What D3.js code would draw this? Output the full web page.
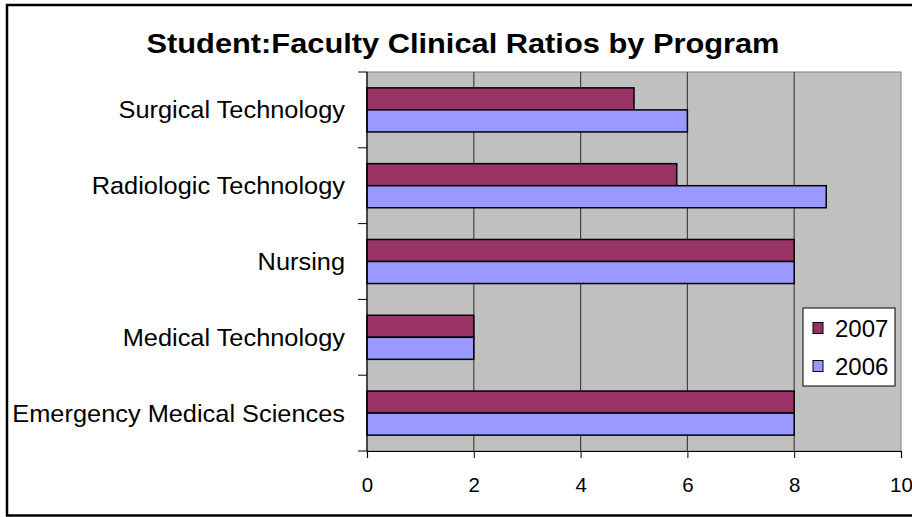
<!DOCTYPE html>
<html>
<head>
<meta charset="utf-8">
<script src="https://cdn.jsdelivr.net/npm/d3@7"></script>
<style>
  html, body { margin: 0; padding: 0; background: #fff; }
  svg { display: block; font-family: Arial, "Liberation Sans", sans-serif; }
</style>
</head>
<body>
<svg id="chart" width="912" height="517"></svg>
<script>
const categories = ["Surgical Technology", "Radiologic Technology", "Nursing", "Medical Technology", "Emergency Medical Sciences"];
const seriesNames = ["2007", "2006"];
const values2007 = [5, 5.8, 8, 2, 8];
const values2006 = [6, 8.6, 8, 2, 8];
const xTicks = [0, 2, 4, 6, 8, 10];
const colors = { "2007": "#993366", "2006": "#9999FF" };
const title = "Student:Faculty Clinical Ratios by Program";

const svg = d3.select("#chart");
const plot = { left: 367, right: 901, top: 72, bottom: 451 };

// outer border
svg.append("rect").attr("x", 7).attr("y", 5).attr("width", 930).attr("height", 510.5)
  .attr("fill", "none").attr("stroke", "#000").attr("stroke-width", 2.5);

// title
svg.append("text").attr("transform", "translate(463,53) scale(1.1,1)").attr("text-anchor", "middle")
  .attr("font-size", 28).attr("font-weight", "bold").attr("fill", "#000").text(title);

const x = d3.scaleLinear().domain([0, 10]).range([plot.left, plot.right]);
const y = d3.scaleBand().domain(categories).range([plot.top, plot.bottom]).padding(0);
const ySub = d3.scaleBand().domain(seriesNames).range([0, y.bandwidth()]).paddingInner(0).paddingOuter(0.72);

// plot background
svg.append("rect").attr("x", plot.left).attr("y", plot.top)
  .attr("width", plot.right - plot.left).attr("height", plot.bottom - plot.top)
  .attr("fill", "#C0C0C0").attr("stroke", "#808080").attr("stroke-width", 1);

// gridlines
svg.append("g").selectAll("line").data(xTicks.filter(d => d > 0 && d < 10)).join("line")
  .attr("x1", d => x(d)).attr("x2", d => x(d))
  .attr("y1", plot.top).attr("y2", plot.bottom)
  .attr("stroke", "#444").attr("stroke-width", 1.2);

// bars
const data = [];
categories.forEach((c, i) => {
  data.push({ cat: c, s: "2007", v: values2007[i] });
  data.push({ cat: c, s: "2006", v: values2006[i] });
});
svg.append("g").selectAll("rect").data(data).join("rect")
  .attr("x", x(0))
  .attr("y", d => y(d.cat) + ySub(d.s))
  .attr("width", d => x(d.v) - x(0))
  .attr("height", ySub.bandwidth())
  .attr("fill", d => colors[d.s])
  .attr("stroke", "#000").attr("stroke-width", 1.5);

// x axis
const xAxis = d3.axisBottom(x).tickValues(xTicks).tickSize(7).tickPadding(19).tickFormat(d3.format("d"));
const gx = svg.append("g").attr("transform", `translate(0,${plot.bottom})`).call(xAxis);
gx.select(".domain").attr("stroke", "#000").attr("stroke-width", 1.2);
gx.selectAll(".tick line").attr("stroke", "#000");
gx.selectAll(".tick text").attr("font-size", 20.5).attr("font-family", "Arial, 'Liberation Sans', sans-serif").attr("fill", "#000");

// y axis line and ticks at band boundaries
svg.append("line").attr("x1", plot.left).attr("x2", plot.left)
  .attr("y1", plot.top).attr("y2", plot.bottom).attr("stroke", "#000").attr("stroke-width", 1.2);
const boundaries = categories.map(c => y(c)).concat([plot.bottom]);
svg.append("g").selectAll("line").data(boundaries).join("line")
  .attr("x1", plot.left - 9).attr("x2", plot.left)
  .attr("y1", d => d).attr("y2", d => d)
  .attr("stroke", "#000").attr("stroke-width", 1);

// category labels
svg.append("g").selectAll("text").data(categories).join("text")
  .attr("transform", d => `translate(345,${y(d) + y.bandwidth() / 2 + 8.5}) scale(1.057,1)`)
  .attr("text-anchor", "end").attr("font-size", 24).attr("fill", "#000")
  .text(d => d);

// legend
const lg = svg.append("g");
lg.append("rect").attr("x", 803).attr("y", 308).attr("width", 92).attr("height", 78)
  .attr("fill", "#fff").attr("stroke", "#000").attr("stroke-width", 1);
const legendY = d3.scalePoint().domain(seriesNames).range([328, 366]);
seriesNames.forEach(s => {
  lg.append("rect").attr("x", 813).attr("y", legendY(s) - 5.5).attr("width", 10).attr("height", 11)
    .attr("fill", colors[s]).attr("stroke", "#000").attr("stroke-width", 1);
  lg.append("text").attr("x", 835).attr("y", legendY(s) + 8.5)
    .attr("font-size", 24).attr("fill", "#000").text(s);
});
</script>
</body>
</html>
